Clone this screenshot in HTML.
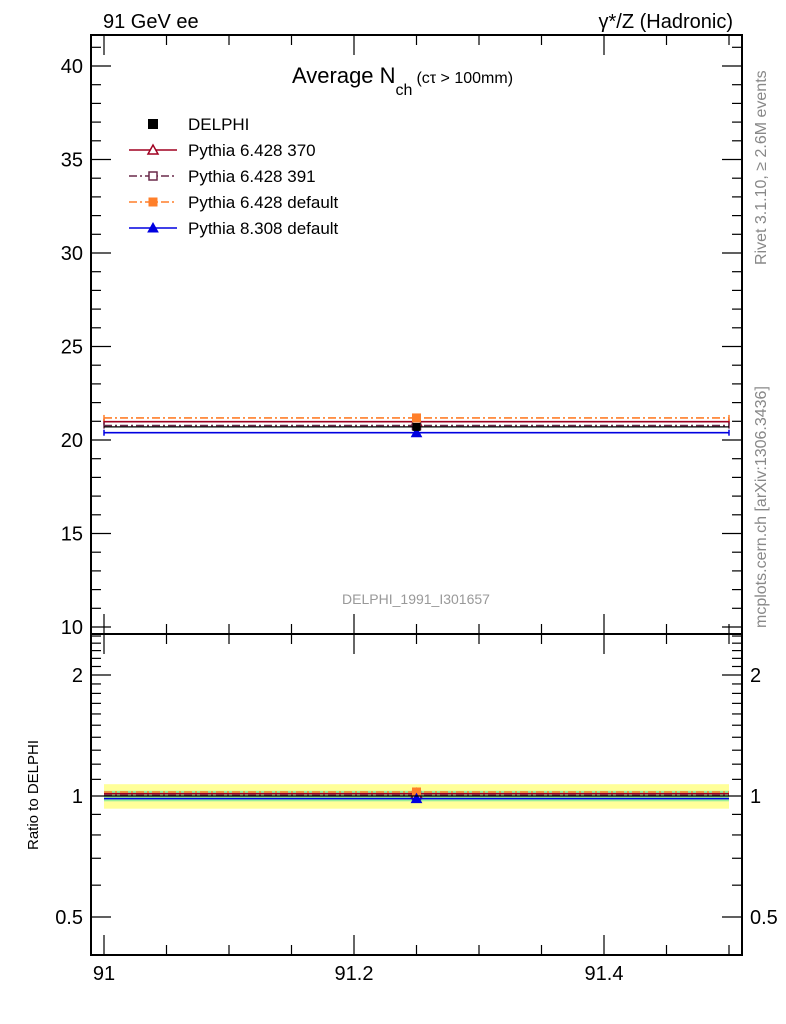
<!DOCTYPE html>
<html><head><meta charset="utf-8"><style>
body{margin:0;background:#fff}
svg{display:block;font-family:"Liberation Sans",sans-serif}
</style></head><body>
<svg id="c" width="786" height="1024" viewBox="0 0 786 1024">
<text x="103" y="28" font-size="20">91 GeV ee</text>
<text x="733" y="28" font-size="20" text-anchor="end">γ*/Z (Hadronic)</text>
<text x="292" y="83" font-size="22">Average N<tspan font-size="16" dy="12">ch</tspan><tspan font-size="16" dy="-12" dx="4">(cτ &gt; 100mm)</tspan></text>
<text x="416" y="604" font-size="14" fill="#999" text-anchor="middle">DELPHI_1991_I301657</text>
<text transform="translate(766,265) rotate(-90)" font-size="16" fill="#888">Rivet 3.1.10, ≥ 2.6M events</text>
<text transform="translate(766,628) rotate(-90)" font-size="16" fill="#888">mcplots.cern.ch [arXiv:1306.3436]</text>
<text transform="translate(38,795) rotate(-90)" font-size="15" text-anchor="middle">Ratio to DELPHI</text>
<g id="legend"></g>
<g id="main"></g>
<g id="ratio"></g>
<rect x="91" y="35" width="651" height="599" fill="none" stroke="#000" stroke-width="2"/>
<rect x="91" y="634" width="651" height="321" fill="none" stroke="#000" stroke-width="2"/>
</svg>
<script>
const xEdges=[91.0,91.5];
const xCenter=[91.25];
const dataVal=[20.7];
const seriesNames=["Pythia 6.428 370","Pythia 6.428 391","Pythia 6.428 default","Pythia 8.308 default"];
const seriesVals=[20.98,20.77,21.18,20.39];
const seriesColors=["#a00020","#6a2a4a","#ff7f2a","#0000e0"];
const seriesDash=["","8,3,2,3","8,3,2,3",""];
const seriesMarkers=["tri-open","sq-open","sq","tri"];
const mainTicks=[10,15,20,25,30,35,40];
const ratioTicks=[0.5,1,2];
const xTicks=[91,91.2,91.4];
const bandYellow=0.07, bandGreen=0.03;

const NS="http://www.w3.org/2000/svg";
const X=v=>104+(v-91)*1250;
const Y=v=>440-(v-20)*18.7;
const R=v=>796-Math.log2(v)*121;
function mk(p,t,a){const e=document.createElementNS(NS,t);for(const k in a)e.setAttribute(k,a[k]);p.appendChild(e);return e;}
const main=document.getElementById('main'),ratio=document.getElementById('ratio'),svg=document.getElementById('c'),leg=document.getElementById('legend');
function marker(p,type,cx,cy,col,s){
  let e;
  if(type.startsWith('tri')) e=mk(p,'polygon',{points:`${cx-s},${cy+s*0.8} ${cx+s},${cy+s*0.8} ${cx},${cy-s}`});
  else e=mk(p,'rect',{x:cx-s*0.8,y:cy-s*0.8,width:s*1.6,height:s*1.6});
  const open=type.endsWith('open');
  e.setAttribute('fill',open?'#fff':col);e.setAttribute('stroke',col);e.setAttribute('stroke-width',open?1.5:1);
  return e;
}
for(let v=10;v<=41;v++){const big=v%5===0;const y=Y(v);
  let t=mk(main,'line',{x1:91,x2:91+(big?20:10),y1:y,y2:y,stroke:'#000','stroke-width':1.2});
  
  mk(main,'line',{x1:742,x2:742-(big?20:10),y1:y,y2:y,stroke:'#000','stroke-width':1.2});}
mainTicks.forEach(v=>{const t=mk(main,'text',{x:83,y:Y(v)+7,'font-size':20,'text-anchor':'end'});t.textContent=v;
  });
for(let i=0;i<=13;i++){const x=X(91+i*0.05);const big=i%4===0;
  if(x<92||x>741)continue;
  [[634,big?-20:-10],[955,big?-20:-10],[634,big?20:10]].forEach(([y0,d])=>mk(main,'line',{x1:x,x2:x,y1:y0,y2:y0+d,stroke:'#000','stroke-width':1.2}));
  mk(main,'line',{x1:x,x2:x,y1:35,y2:35+(big?20:10),stroke:'#000','stroke-width':1.2});}
xTicks.forEach(v=>{const t=mk(svg,'text',{x:X(v),y:980,'font-size':20,'text-anchor':'middle'});t.textContent=v;
  });
const rMinor=[0.4,0.5,0.6,0.7,0.8,0.9,1,1.1,1.2,1.3,1.4,1.5,1.6,1.7,1.8,1.9,2,2.1,2.2,2.3,2.4,2.5];
rMinor.forEach(v=>{const big=ratioTicks.includes(v);const y=R(v);if(y<635||y>954)return;
  mk(ratio,'line',{x1:91,x2:91+(big?20:10),y1:y,y2:y,stroke:'#000','stroke-width':1.2});
  mk(ratio,'line',{x1:742,x2:742-(big?20:10),y1:y,y2:y,stroke:'#000','stroke-width':1.2});});
ratioTicks.forEach(v=>{[[83,'end'],[750,'start']].forEach(([x,a])=>{const t=mk(ratio,'text',{x:x,y:R(v)+7,'font-size':20,'text-anchor':a});t.textContent=v;
  });});
const x0=X(xEdges[0]),x1=X(xEdges[1]);
const b1=mk(ratio,'rect',{x:x0,y:R(1+bandYellow),width:x1-x0,height:R(1-bandYellow)-R(1+bandYellow),fill:'#ffff99'});

const b2=mk(ratio,'rect',{x:x0,y:R(1+bandGreen),width:x1-x0,height:R(1-bandGreen)-R(1+bandGreen),fill:'#99ee99'});

seriesVals.forEach((v,i)=>{
  const col=seriesColors[i];
  const l=mk(main,'line',{x1:x0,x2:x1,y1:Y(v),y2:Y(v),stroke:col,'stroke-width':1.6,'stroke-dasharray':seriesDash[i]});
  
  mk(main,'line',{x1:x0,x2:x0,y1:Y(v)-3,y2:Y(v)+3,stroke:col,'stroke-width':1.5});
  mk(main,'line',{x1:x1,x2:x1,y1:Y(v)-3,y2:Y(v)+3,stroke:col,'stroke-width':1.5});
  const m=marker(main,seriesMarkers[i],X(xCenter[0]),Y(v),col,5);
  
  const r=v/dataVal[0];
  const rl=mk(ratio,'line',{x1:x0,x2:x1,y1:R(r),y2:R(r),stroke:col,'stroke-width':1.6,'stroke-dasharray':seriesDash[i]});
  
  const rm=marker(ratio,seriesMarkers[i],X(xCenter[0]),R(r),col,5);
  
});
const dl=mk(main,'line',{x1:x0,x2:x1,y1:Y(dataVal[0]),y2:Y(dataVal[0]),stroke:'#000','stroke-width':1.2});

const dm=mk(main,'rect',{x:X(xCenter[0])-4,y:Y(dataVal[0])-4,width:8,height:8,fill:'#000'});

const rdl=mk(ratio,'line',{x1:x0,x2:x1,y1:R(1),y2:R(1),stroke:'#000','stroke-width':1.2});

const ly=[124,150,176,202,228];
const d=mk(leg,'rect',{x:148,y:ly[0]-5,width:10,height:10,fill:'#000'});

const names=["DELPHI"].concat(seriesNames);
names.forEach((n,i)=>{const t=mk(leg,'text',{x:188,y:ly[i]+6,'font-size':17});t.textContent=n;
  });
seriesNames.forEach((n,i)=>{const y=ly[i+1];
  mk(leg,'line',{x1:129,x2:177,y1:y,y2:y,stroke:seriesColors[i],'stroke-width':1.5,'stroke-dasharray':seriesDash[i]});
  const m=marker(leg,seriesMarkers[i],153,y,seriesColors[i],5);
  });
</script>
</body></html>
